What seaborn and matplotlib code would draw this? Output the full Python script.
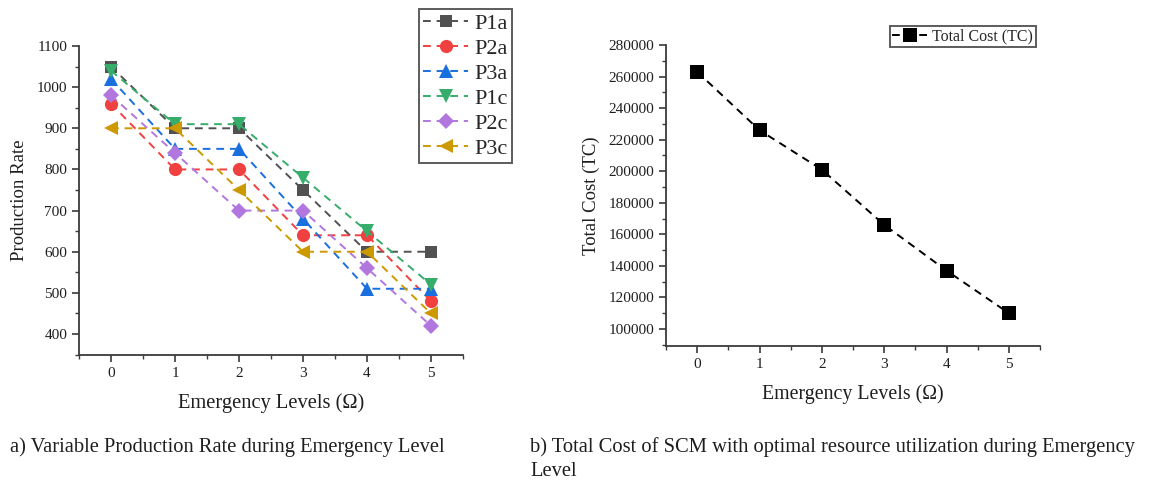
import numpy as np
import pandas as pd
import matplotlib
matplotlib.use("Agg")
import matplotlib.pyplot as plt
import seaborn as sns
from matplotlib.ticker import MultipleLocator

sns.set_theme(style="white")
plt.rcParams['font.family'] = ['Liberation Serif', 'DejaVu Serif']
plt.rcParams['mathtext.fontset'] = 'stix'

levels = [0, 1, 2, 3, 4, 5]
series_names = ["P1a", "P2a", "P3a", "P1c", "P2c", "P3c"]
p1a = [1050, 900, 900, 750, 600, 600]
p2a = [960, 800, 800, 640, 640, 480]
p3a = [1020, 850, 850, 680, 510, 510]
p1c = [1040, 910, 910, 780, 650, 520]
p2c = [980, 840, 700, 700, 560, 420]
p3c = [900, 900, 750, 600, 600, 450]
total_cost = [263000, 226000, 201000, 166000, 137000, 110000]

colors = ["#515151", "#F14040", "#1A6FDF", "#37AD6B", "#B177DE", "#CC9900"]
markers = ["s", "o", "^", "v", "D", "<"]
msizes = [9, 9.5, 9.5, 9.5, 8.5, 9.5]

W, H = 1149, 482
fig = plt.figure(figsize=(W / 100, H / 100), dpi=100)

def axrect(x0, y0, x1, y1):
    return [x0 / W, 1 - y1 / H, (x1 - x0) / W, (y1 - y0) / H]

ax1 = fig.add_axes(axrect(79, 46, 463, 355))
ax2 = fig.add_axes(axrect(666, 45, 1040, 346))

spine_col = "#3a3a3a"
txt_col = "#1e1e1e"

for name, vals, c, m, ms in zip(series_names, [p1a, p2a, p3a, p1c, p2c, p3c], colors, markers, msizes):
    sns.lineplot(x=levels, y=vals, ax=ax1, color=c, marker=m, markersize=ms,
                 markeredgewidth=0, linestyle=(0, (4, 3)), linewidth=1.4, label=name)

sns.lineplot(x=levels, y=total_cost, ax=ax2, color="black", marker="s", markersize=10,
             markeredgewidth=0, linestyle=(0, (4, 3)), linewidth=1.4, label="Total Cost (TC)")

for ax in (ax1, ax2):
    for s in ("top", "right"):
        ax.spines[s].set_visible(False)
    for s in ("left", "bottom"):
        ax.spines[s].set_color(spine_col)
        ax.spines[s].set_linewidth(1.3)
    ax.set_xlim(-0.5, 5.5)
    ax.xaxis.set_major_locator(MultipleLocator(1))
    ax.xaxis.set_minor_locator(MultipleLocator(0.5))
    ax.tick_params(which="major", direction="out", length=5, width=1.2, color=spine_col,
                   labelsize=11, labelcolor=txt_col, left=True, bottom=True)
    ax.tick_params(which="minor", direction="out", length=3, width=1.0, color=spine_col,
                   left=True, bottom=True)
    ax.grid(False)

ax1.set_xlabel("Emergency Levels (Ω)", fontsize=14.8, color=txt_col, labelpad=10)
ax2.set_xlabel("Emergency Levels (Ω)", fontsize=14.3, color=txt_col, labelpad=10)

ax1.set_ylim(349, 1100)
ax1.yaxis.set_major_locator(MultipleLocator(100))
ax1.yaxis.set_minor_locator(MultipleLocator(50))
ax1.set_ylabel("Production Rate", fontsize=13.5, color=txt_col, labelpad=6)

ax2.set_ylim(89200, 280000)
ax2.yaxis.set_major_locator(MultipleLocator(20000))
ax2.yaxis.set_minor_locator(MultipleLocator(10000))
ax2.set_ylabel("Total Cost (TC)", fontsize=13.5, color=txt_col, labelpad=6)

leg1 = ax1.legend(loc="upper left", bbox_to_anchor=(419 / W, 1 - 9 / H),
                  bbox_transform=fig.transFigure, fontsize=16, frameon=True,
                  fancybox=False, edgecolor="#333333", handlelength=2.0,
                  handletextpad=0.27, labelspacing=0.2, borderpad=0.2,
                  borderaxespad=0, markerscale=1.0)
leg1.get_frame().set_linewidth(1.4)

leg2 = ax2.legend(loc="upper left", bbox_to_anchor=(890 / W, 1 - 26 / H),
                  bbox_transform=fig.transFigure, fontsize=11.5, frameon=True,
                  fancybox=False, edgecolor="#333333", handlelength=2.25,
                  handletextpad=0.25, borderpad=0.15, borderaxespad=0)
leg2.get_frame().set_linewidth(1.4)

fig.text(10 / W, 1 - 447 / H, "a) Variable Production Rate during Emergency Level",
         fontsize=14.8, va="center", ha="left", color=txt_col)
fig.text(530 / W, 1 - 447 / H, "b) Total Cost of SCM with optimal resource utilization during Emergency",
         fontsize=14.8, va="center", ha="left", color=txt_col)
fig.text(530 / W, 1 - 471 / H, "Level",
         fontsize=14.8, va="center", ha="left", color=txt_col)

fig.savefig("out.png", dpi=100)
